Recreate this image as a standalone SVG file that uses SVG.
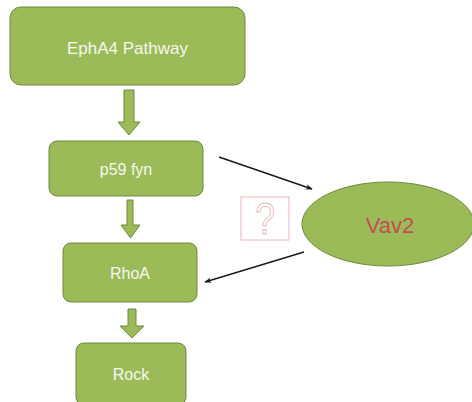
<svg xmlns="http://www.w3.org/2000/svg" width="472" height="402" viewBox="0 0 472 402">
<style>
.box{fill:#9bbb59;stroke:#71893f;stroke-width:1}
.lbl{font-family:"Liberation Sans",Arial,sans-serif;font-size:16px;fill:#f4f8ee;text-anchor:middle}
.blk{fill:#9bbb59;stroke:#71893f;stroke-width:1}
.con{stroke:#1a1a1a;stroke-width:1.5;fill:none}
</style>
<defs>
<marker id="ah" viewBox="0 0 10 10" refX="9" refY="5" markerWidth="7" markerHeight="7" orient="auto" markerUnits="userSpaceOnUse">
<path d="M0,1 L10,5 L0,9 L3,5 Z" fill="#1a1a1a"/>
</marker>
</defs>
<rect width="472" height="402" fill="#ffffff"/>
<g id="epha4">
<rect class="box" x="10" y="7" width="235" height="78" rx="11"/>
<text class="lbl" x="127.5" y="54" style="font-size:17px">EphA4 Pathway</text>
</g>
<g id="p59fyn">
<rect class="box" x="49" y="141" width="154" height="55" rx="8"/>
<text class="lbl" x="126" y="175">p59 fyn</text>
</g>
<g id="rhoa">
<rect class="box" x="63" y="243" width="134" height="59" rx="8"/>
<text class="lbl" x="130" y="279">RhoA</text>
</g>
<g id="rock">
<rect class="box" x="76" y="343" width="110" height="62" rx="8"/>
<text class="lbl" x="131" y="380">Rock</text>
</g>
<g id="vav2">
<ellipse cx="388" cy="224" rx="86" ry="42" fill="#9bbb59" stroke="#71893f" stroke-width="1"/>
<text x="390" y="233" text-anchor="middle" style="font-family:'Liberation Sans',Arial,sans-serif;font-size:22px;fill:#c0504d">Vav2</text>
</g>
<g id="question">
<rect x="241" y="197" width="48" height="43" fill="#ffffff" stroke="#e6b9b8" stroke-width="1"/>
<text x="0" y="0" text-anchor="middle" transform="translate(265,234) scale(0.8,1)" style="font-family:'Liberation Sans',Arial,sans-serif;font-size:44px;fill:none;stroke:#e6b9b8;stroke-width:1">?</text>
</g>
<g id="connectors">
<path class="blk" d="M124,90 H134 V122 H140 L129,135 L118,122 H124 Z"/>
<path class="blk" d="M127,200 H133 V225 H140 L130.5,238 L121,225 H127 Z"/>
<path class="blk" d="M128,309 H136 V326 H144 L132,338 L120,326 H128 Z"/>
<line class="con" x1="219" y1="157" x2="312" y2="189" marker-end="url(#ah)"/>
<line class="con" x1="304" y1="252" x2="205" y2="282" marker-end="url(#ah)"/>
</g>
</svg>
